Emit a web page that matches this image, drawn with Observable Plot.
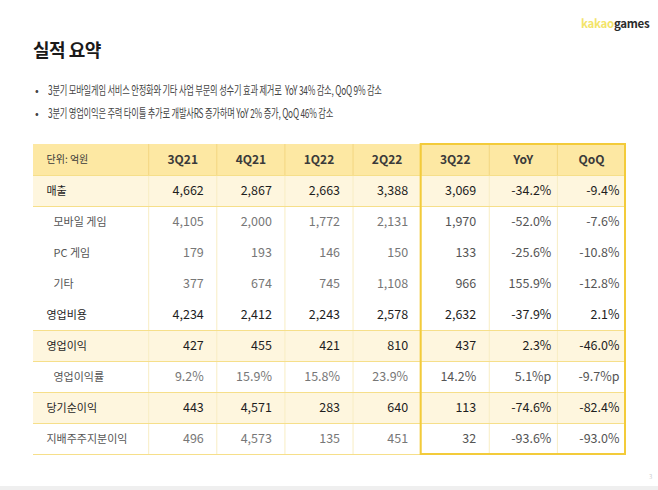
<!DOCTYPE html>
<html>
<head>
<meta charset="utf-8">
<script src="https://cdn.jsdelivr.net/npm/d3@7"></script>
<script src="https://cdn.jsdelivr.net/npm/@observablehq/plot@0.6"></script>
<style>
  html, body { margin:0; padding:0; background:#fff; }
  body { width:658px; height:490px; position:relative; overflow:hidden; font-family:"Noto Sans CJK KR","Noto Sans",sans-serif; }
  #chart { position:absolute; left:0; top:0; }
  #chart text { font-family:"Noto Sans CJK KR","Noto Sans",sans-serif; }
  .logo { position:absolute; left:581px; top:15px; font-size:11.5px; font-weight:700; letter-spacing:-0.3px; color:#2b2b2b; }
  .logo span { color:#f3e46a; }
  .title { position:absolute; left:33px; top:36px; font-size:18px; font-weight:700; color:#1a1a1a; letter-spacing:-0.5px; }
  .bullet { position:absolute; left:35px; font-size:12.5px; line-height:18px; color:#454545; white-space:nowrap; }
  .bullet .dot { display:inline-block; width:13px; font-size:11px; }
  .bullet .txt { display:inline-block; transform:scaleX(0.66); transform-origin:left center; letter-spacing:-0.3px; }
  .strip { position:absolute; left:0; top:486px; width:658px; height:4px; background:#efefef; }
  .pnum { position:absolute; left:649px; top:472px; font-size:6px; color:#cfcfcf; }
</style>
</head>
<body>
<div class="logo"><span>kakao</span>games</div>
<div class="title">실적 요약</div>
<div class="bullet" style="top:81px"><span class="dot">•</span><span class="txt">3분기 모바일게임 서비스 안정화와 기타 사업 부문의 성수기 효과 제거로&nbsp; YoY 34% 감소, QoQ 9% 감소</span></div>
<div class="bullet" style="top:104px"><span class="dot">•</span><span class="txt">3분기 영업이익은 주력 타이틀 추가로 개발사RS 증가하며 YoY 2% 증가, QoQ 46% 감소</span></div>
<div id="chart"></div>
<div class="strip"></div>
<div class="pnum">3</div>
<script>
// ---- data ----
const unitLabel = "단위: 억원";
const rowLabels = ["매출","모바일 게임","PC 게임","기타","영업비용","영업이익","영업이익률","당기순이익","지배주주지분이익"];
const periods = ["3Q21","4Q21","1Q22","2Q22","3Q22"];
const changeCols = ["YoY","QoQ"];
const v3Q21 = [4662, 4105, 179, 377, 4234, 427, 9.2, 443, 496];
const v4Q21 = [2867, 2000, 193, 674, 2412, 455, 15.9, 4571, 4573];
const v1Q22 = [2663, 1772, 146, 745, 2243, 421, 15.8, 283, 135];
const v2Q22 = [3388, 2131, 150, 1108, 2578, 810, 23.9, 640, 451];
const v3Q22 = [3069, 1970, 133, 966, 2632, 437, 14.2, 113, 32];
const yoy = [-34.2, -52.0, -25.6, 155.9, -37.9, 2.3, 5.1, -74.6, -93.6];
const qoq = [-9.4, -7.6, -10.8, -12.8, 2.1, -46.0, -9.7, -82.4, -93.0];
const mainRows = [0, 5, 7];      // bold, shaded
const subRows = [1, 2, 3, 6];    // indented
const marginRow = 6;             // percent row

// ---- layout helpers ----
const unitPx = 68;
const labelW = 115 / unitPx;
const nCols = periods.length + changeCols.length;
const total = labelW + nCols;
const colLeft = j => labelW + j;
const boxStart = colLeft(periods.length - 1);
const series = [v3Q21, v4Q21, v1Q22, v2Q22, v3Q22, yoy, qoq];
const headers = [...periods, ...changeCols];
const fmtN = d3.format(",");
const fmtP = v => (v < 0 ? "-" : "") + Math.abs(v).toFixed(1) + "%";

const cells = [];
series.forEach((arr, j) => {
  arr.forEach((v, i) => {
    const isChange = j >= periods.length;
    let text;
    if (isChange) text = fmtP(v) + (i === marginRow ? "p" : "");
    else text = i === marginRow ? fmtP(v) : fmtN(v);
    const isMain = mainRows.includes(i);
    const inBox = j >= periods.length - 1;
    cells.push({
      i, j, text,
      x: colLeft(j) + 1 - (isChange ? 6 : 13) / unitPx,
      y: i + 1.5,
      weight: isMain ? 700 : (i === 4 ? (inBox ? 600 : 500) : 400),
      color: isMain || i === 4 ? "#1e1e1e" : (inBox ? "#555" : "#777")
    });
  });
});
const labels = rowLabels.map((t, i) => ({
  t, y: i + 1.5,
  dx: subRows.includes(i) ? 20 : 13,
  weight: mainRows.includes(i) ? 700 : (i === 4 ? 500 : 400),
  color: mainRows.includes(i) || i === 4 ? "#1e1e1e" : "#555"
}));
const hBorders = [1, ...mainRows.flatMap(i => [i + 1, i + 2]), rowLabels.length + 1];
const vBorders = d3.range(nCols).map(j => colLeft(j));

const font = "Noto Sans CJK KR";
const chart = Plot.plot({
  width: 658, height: 490,
  marginLeft: 33, marginRight: 33, marginTop: 144, marginBottom: 36,
  x: { domain: [0, total], axis: null },
  y: { domain: [0, rowLabels.length + 1], reverse: true, axis: null },
  style: { fontFamily: font, background: "transparent" },
  marks: [
    Plot.rect([0], { x1: 0, x2: total, y1: 0, y2: 1, fill: "#fde8a3" }),
    Plot.rect(mainRows, { x1: 0, x2: total, y1: d => d + 1, y2: d => d + 2, fill: "#fef6de" }),
    Plot.ruleX(vBorders, { x: d => d, y1: 0, y2: 1, stroke: "#f3d680", strokeWidth: 1 }),
    Plot.ruleX(vBorders, { x: d => d, y1: 1, y2: rowLabels.length + 1, stroke: "#f8edc3", strokeWidth: 1 }),
    Plot.ruleY(hBorders, { y: d => d, x1: 0, x2: total, stroke: "#f6df8a", strokeWidth: 1.2 }),
    Plot.rect([0], { x1: boxStart, x2: total, y1: 0, y2: rowLabels.length + 1, fill: "none", stroke: "#f3cb3a", strokeWidth: 2 }),
    Plot.text([unitLabel], { x: 0, y: 0.5, text: d => d, textAnchor: "start", dx: 13, fontSize: 10, fill: "#3a3a3a", fontFamily: font }),
    Plot.text(headers, { x: (d, j) => colLeft(j) + 0.5, y: 0.5, text: d => d, fontSize: 12, fontWeight: 600, fill: "#3a3a3a", fontFamily: font }),
    ...[13, 20].map(dx => Plot.text(labels.filter(l => l.dx === dx), { x: 0, y: "y", text: "t", textAnchor: "start", dx, fontSize: 11, fontWeight: "weight", fill: "color", fontFamily: font })),
    Plot.text(cells, { x: "x", y: "y", text: "text", textAnchor: "end", fontSize: 12.5, fontWeight: "weight", fill: "color", fontFamily: font })
  ]
});
document.getElementById("chart").appendChild(chart);
</script>
</body>
</html>
